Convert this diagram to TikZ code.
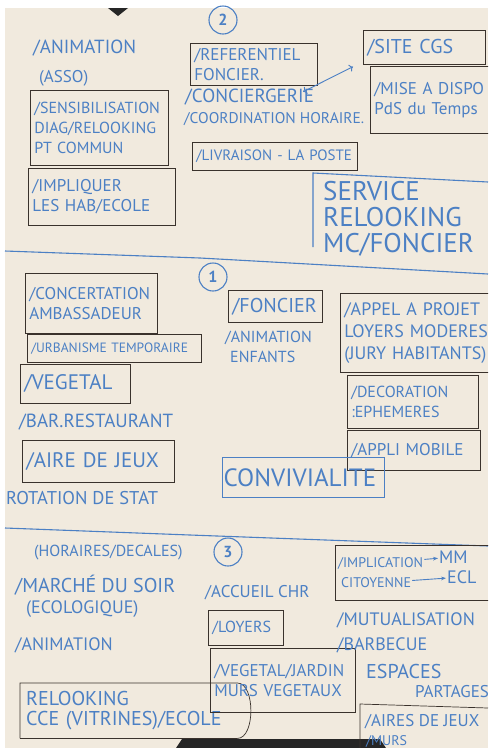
\documentclass[tikz,border=0pt]{standalone}
\usepackage{fontspec}
\setmainfont{PT Sans}
\usetikzlibrary{arrows.meta}

\definecolor{papier}{RGB}{241,234,222}
\definecolor{encre}{RGB}{76,128,196}
\definecolor{feutre}{RGB}{58,50,44}

\tikzset{
  note/.style={text=encre, font=\fontsize{16}{20}\selectfont, align=left, inner sep=1pt},
  taille/.style={font=\fontsize{#1}{20}\selectfont},
  gros/.style={text=encre, font=\fontsize{27}{26}\selectfont, align=left, inner sep=1pt},
  cadre/.style={note, draw=feutre, line width=0.7pt, anchor=north west, inner xsep=4pt},
  numero/.style={circle, draw=encre, line width=1.1pt, text=encre, minimum size=28pt, inner sep=0pt, font=\fontsize{16}{16}\selectfont\bfseries},
  trait/.style={encre, line width=1.1pt},
  fleche/.style={encre, line width=0.9pt, -{Stealth[length=5pt]}}
}

\begin{document}
\begin{tikzpicture}[x=1pt, y=-1pt]
      \clip (0,0) rectangle (488,748);
      %Feuille
      \fill[white] (0,0) rectangle (488,748);
      \fill[papier] (5,8) rectangle (488,748);
      \fill[black!85] (108,8) -- (128,8) -- (118,16) -- cycle;
      \fill[black!85] (176,748) -- (182,739) -- (380,739) -- (386,748) -- cycle;

      %Partie 2
      \node[numero] (num2) at (223,20) {2};
      \node[note, anchor=west, taille=19] (animAsso) at (32,48) {/ANIMATION};
      \node[note, anchor=west, taille=17] (asso) at (38,78) {(ASSO)};
      \node[cadre, taille=16, text width=130pt, minimum height=75pt] (sensib) at (30,90) {/SENSIBILISATION\\DIAG/RELOOKING\\PT COMMUN};
      \node[cadre, taille=17, text width=139pt, minimum height=57pt] (impliq) at (28,168) {/IMPLIQUER\\LES HAB/ECOLE};
      \node[cadre, taille=17, text width=119pt, minimum height=42pt] (referent) at (190,43) {/REFERENTIEL\\FONCIER.};
      \node[note, anchor=west, taille=19] (concierg) at (184,97) {/CONCIERGERIE};
      \node[note, anchor=west, taille=15.5] (coord) at (183,119) {/COORDINATION HORAIRE.};
      \node[cadre, taille=15, text width=157pt, minimum height=28pt] (livraison) at (192,142) {/LIVRAISON - LA POSTE};
      \node[cadre, taille=20, text width=114pt, minimum height=34pt] (site) at (363,30) {/SITE CGS};
      \node[cadre, taille=17, text width=117pt, minimum height=67pt] (mise) at (370,66) {/MISE A DISPO\\PdS du Temps};
      \draw[fleche, <->] ([xshift=-12pt,yshift=-4pt]concierg.north east) -- ([xshift=-10pt,yshift=-2pt]site.south west);

      %Service
      \node[gros, anchor=north west] (service) at (322,180) {SERVICE\\RELOOKING\\MC/FONCIER};
      \draw[trait] (488,182) -- (313,173) -- (313,247);

      \draw[trait] (5,251) -- (200,258) -- (488,274);

      %Partie 1
      \node[numero] (num1) at (213,277) {1};
      \node[cadre, taille=17, text width=124pt, minimum height=60pt] (concert) at (25,273) {/CONCERTATION\\AMBASSADEUR};
      \node[cadre, taille=13.5, text width=166pt, minimum height=28pt] (urban) at (27,334) {/URBANISME TEMPORAIRE};
      \node[cadre, taille=21, text width=102pt, minimum height=39pt] (veget) at (20,364) {/VEGETAL};
      \node[note, anchor=west, taille=19] (bar) at (18,422) {/BAR.RESTAURANT};
      \node[cadre, taille=21, text width=144pt, minimum height=42pt] (aire) at (22,440) {/AIRE DE JEUX};
      \node[note, anchor=west, taille=18.5] (rotation) at (5,498) {ROTATION DE STAT};
      \node[cadre, taille=20, text width=86pt, minimum height=32pt] (foncier) at (228,290) {/FONCIER};
      \node[note, anchor=north west, taille=16] (animEnf) at (224,330) {/ANIMATION\\\hspace{5pt}ENFANTS};
      \node[cadre, font=\fontsize{18}{22}\selectfont, text width=152pt, minimum height=79pt] (appel) at (340,293) {/APPEL A PROJET\\LOYERS MODERES\\(JURY HABITANTS)};
      \node[cadre, taille=16, text width=123pt, minimum height=53pt] (decor) at (347,375) {/DECORATION\\:EPHEMERES};
      \node[cadre, taille=17, text width=125pt, minimum height=40pt] (appli) at (347,430) {/APPLI MOBILE};
      \node[cadre, gros, font=\fontsize{25}{26}\selectfont, draw=encre, line width=1.1pt, text width=160pt, minimum height=40pt] (conviv) at (222,457) {CONVIVIALITE};

      \draw[trait] (5,528) -- (190,535) -- (488,546);

      %Partie 3
      \node[numero] (num3) at (228,552) {3};
      \node[note, anchor=west, taille=16] (horaires) at (33,553) {(HORAIRES/DECALES)};
      \node[note, anchor=west, taille=20] (marche) at (14,585) {/MARCHÉ DU SOIR};
      \node[note, anchor=west, taille=18] (ecolo) at (25,609) {(ECOLOGIQUE)};
      \node[note, anchor=west, taille=18] (anim3) at (14,645) {/ANIMATION};
      \node[note, anchor=north west, taille=20, text width=205pt, minimum height=55pt, inner xsep=6pt] (relook) at (20,683) {RELOOKING\\CCE (VITRINES)/ECOLE};
      \draw[feutre, line width=0.7pt] (relook.south west) -- (relook.north west) -- (relook.north east) .. controls +(18,0) and +(18,0) .. (relook.south east) -- (relook.south west);
      \node[note, anchor=west, taille=17] (accueil) at (204,593) {/ACCUEIL CHR};
      \node[cadre, taille=16, text width=67pt, minimum height=35pt] (loyers) at (208,610) {/LOYERS};
      \node[cadre, taille=17, text width=137pt, minimum height=64pt] (veget3) at (210,648) {/VEGETAL/JARDIN\\MURS VEGETAUX};
      \node[cadre, minimum width=160pt, minimum height=55pt] (boiteImpl) at (335,545) {};
      \node[note, anchor=west, taille=14] (impl1) at (337,563) {/IMPLICATION};
      \node[note, anchor=west, taille=14] (impl2) at (340,583) {CITOYENNE};
      \node[note, anchor=west, taille=18] (mm) at (438,557) {MM};
      \node[note, anchor=west, taille=18] (ecl) at (446,577) {ECL};
      \draw[fleche] (impl1) -- (mm);
      \draw[fleche] (impl2) -- (ecl);
      \node[note, anchor=west, taille=18] (mutual) at (336,620) {/MUTUALISATION};
      \node[note, anchor=west, taille=18] (barbecue) at (336,645) {/BARBECUE};
      \node[note, anchor=west, taille=20] (espaces) at (365,671) {ESPACES};
      \node[note, anchor=west, taille=17] (partages) at (414,692) {PARTAGES};
      \node[note, anchor=west, taille=17] (aires) at (364,722) {/AIRES DE JEUX};
      \draw[feutre, line width=0.7pt] (488,708) -- ([shift={(-4,-18)}]aires.west) -- ([shift={(-4,30)}]aires.west);
      \node[note, anchor=west, taille=14] (murs) at (365,741) {/MURS};
\end{tikzpicture}
\end{document}
